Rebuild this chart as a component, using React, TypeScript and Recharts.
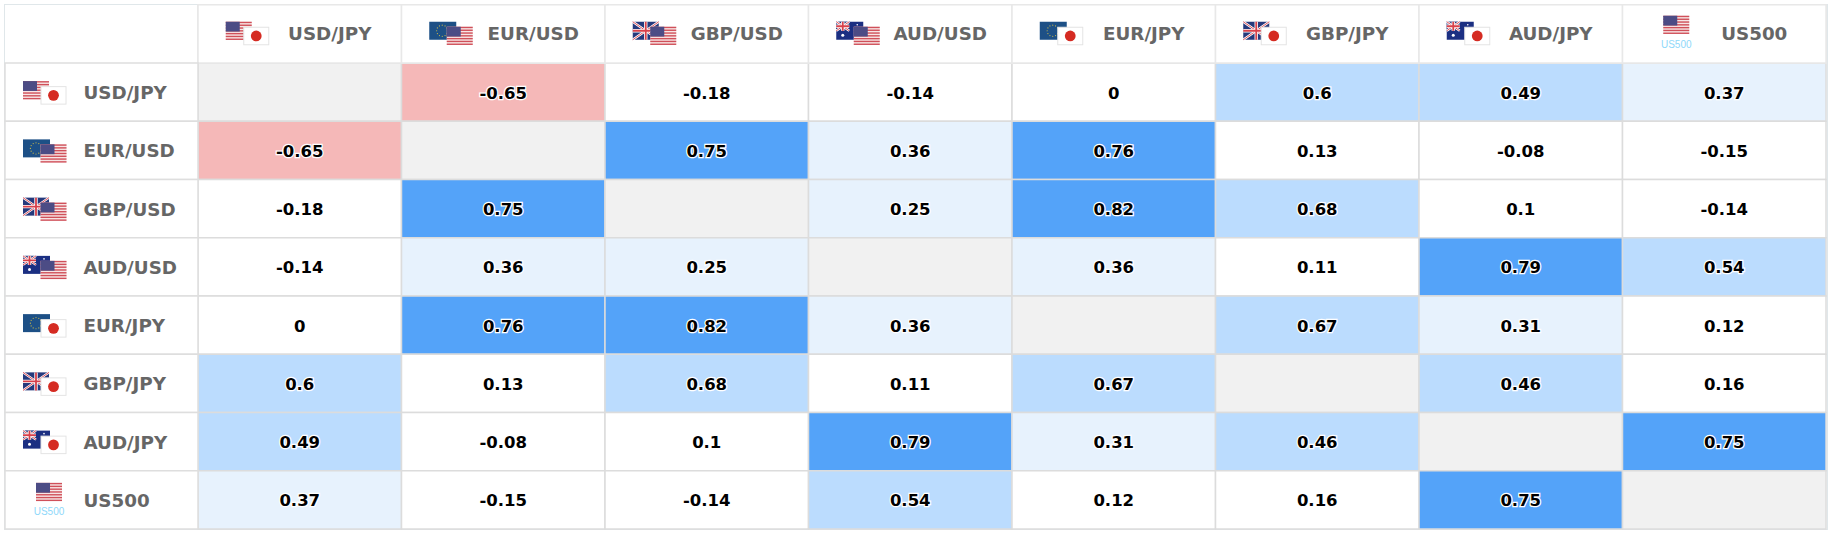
import { Scatter, ScatterChart, XAxis, YAxis } from "recharts"

const pairs = ["USD/JPY", "EUR/USD", "GBP/USD", "AUD/USD", "EUR/JPY", "GBP/JPY", "AUD/JPY", "US500"]

const usdJpy = [null, -0.65, -0.18, -0.14, 0, 0.6, 0.49, 0.37]
const eurUsd = [-0.65, null, 0.75, 0.36, 0.76, 0.13, -0.08, -0.15]
const gbpUsd = [-0.18, 0.75, null, 0.25, 0.82, 0.68, 0.1, -0.14]
const audUsd = [-0.14, 0.36, 0.25, null, 0.36, 0.11, 0.79, 0.54]
const eurJpy = [0, 0.76, 0.82, 0.36, null, 0.67, 0.31, 0.12]
const gbpJpy = [0.6, 0.13, 0.68, 0.11, 0.67, null, 0.46, 0.16]
const audJpy = [0.49, -0.08, 0.1, 0.79, 0.31, 0.46, null, 0.75]
const us500 = [0.37, -0.15, -0.14, 0.54, 0.12, 0.16, 0.75, null]

const matrix = [usdJpy, eurUsd, gbpUsd, audUsd, eurJpy, gbpJpy, audJpy, us500]

const cells = matrix.flatMap((row, r) =>
  row.map((value, c) => ({ col: pairs[c], row: pairs[r], value }))
)

const CELL_W = 203.5
const CELL_H = 58.25
const FONT = "'DejaVu Sans', sans-serif"

function cellColor(value: number | null) {
  if (value === null) return "#f1f1f1"
  if (value <= -0.5) return "#f5b8b8"
  if (value >= 0.7) return "#54a3f9"
  if (value >= 0.4) return "#bbdcfe"
  if (value >= 0.2) return "#e7f2fd"
  return "#ffffff"
}

// little flags, all about 26x18
function UsFlag({ x, y }: { x: number; y: number }) {
  const stripes = [0, 1, 2, 3, 4, 5, 6]
  return (
    <g transform={`translate(${x},${y})`}>
      <rect width={26} height={18} fill="#f7e6e6" />
      {stripes.map((s) => (
        <rect key={s} y={s * 2.8} width={26} height={1.4} fill="#d0505a" />
      ))}
      <rect width={14} height={9.8} fill="#4c4c85" />
    </g>
  )
}

function JpFlag({ x, y }: { x: number; y: number }) {
  return (
    <g transform={`translate(${x},${y})`}>
      <rect x={0.5} y={0.5} width={25} height={17.5} fill="#fff" stroke="#e4e4e4" />
      <circle cx={13} cy={9.2} r={5.4} fill="#d52b22" />
    </g>
  )
}

function EuFlag({ x, y }: { x: number; y: number }) {
  const stars = [0, 1, 2, 3, 4, 5, 6, 7, 8, 9, 10, 11]
  return (
    <g transform={`translate(${x},${y})`}>
      <rect width={27} height={18} fill="#1d5086" />
      {stars.map((s) => (
        <circle
          key={s}
          cx={13 + 5.6 * Math.cos((s * Math.PI) / 6)}
          cy={9 + 5.6 * Math.sin((s * Math.PI) / 6)}
          r={0.6}
          fill="#c9b84a"
        />
      ))}
    </g>
  )
}

function UnionJack({ w, h }: { w: number; h: number }) {
  return (
    <g>
      <rect width={w} height={h} fill="#25397c" />
      <path d={`M0 0L${w} ${h}M${w} 0L0 ${h}`} stroke="#fff" strokeWidth={2.4} />
      <path d={`M0 0L${w} ${h}M${w} 0L0 ${h}`} stroke="#d8404a" strokeWidth={0.9} />
      <path d={`M${w / 2} 0V${h}M0 ${h / 2}H${w}`} stroke="#fff" strokeWidth={3.4} />
      <path d={`M${w / 2} 0V${h}M0 ${h / 2}H${w}`} stroke="#d8404a" strokeWidth={1.8} />
    </g>
  )
}

function UkFlag({ x, y }: { x: number; y: number }) {
  return (
    <g transform={`translate(${x},${y})`}>
      <UnionJack w={26} h={18} />
    </g>
  )
}

function AuFlag({ x, y }: { x: number; y: number }) {
  return (
    <g transform={`translate(${x},${y})`}>
      <rect width={27} height={18} fill="#1b2f82" />
      <UnionJack w={13} h={9} />
      <circle cx={6.5} cy={13.5} r={1.5} fill="#fff" />
      <circle cx={21} cy={3} r={0.8} fill="#fff" />
    </g>
  )
}

const flagOf: Record<string, (p: { x: number; y: number }) => any> = {
  USD: UsFlag,
  JPY: JpFlag,
  EUR: EuFlag,
  GBP: UkFlag,
  AUD: AuFlag,
}

// x, y: top left corner of the flag group
function PairFlag({ name, x, y }: { name: string; x: number; y: number }) {
  if (name === "US500") {
    return (
      <g>
        <UsFlag x={x + 13} y={y - 6} />
        <text x={x + 26} y={y + 26} textAnchor="middle" fontSize={10} fill="#8fd8fa" fontFamily="'Liberation Sans', sans-serif">
          US500
        </text>
      </g>
    )
  }
  const [base, quote] = name.split("/")
  const Base = flagOf[base]
  const Quote = flagOf[quote]
  return (
    <g>
      <Base x={x} y={y} />
      <Quote x={x + 17.5} y={y + 5} />
    </g>
  )
}

function ColumnTick({ x, y, payload }: any) {
  const name = payload.value
  const top = y - CELL_H
  return (
    <g>
      <rect x={x - CELL_W / 2} y={top} width={CELL_W} height={CELL_H} fill="#fff" stroke="#e8e8e8" strokeWidth={1.5} />
      <PairFlag name={name} x={x - 74} y={top + 17} />
      <text x={x + 30} y={top + 35} textAnchor="middle" fontSize={18.3} fontWeight={700} fill="#666" fontFamily={FONT}>
        {name}
      </text>
    </g>
  )
}

function RowTick({ x, y, payload }: any) {
  const name = payload.value
  return (
    <g>
      <rect x={x - 193} y={y - CELL_H / 2} width={193} height={CELL_H} fill="#fff" stroke="#dedede" strokeWidth={1.5} />
      <PairFlag name={name} x={x - 175} y={y - 11} />
      <text x={x - 114.5} y={y + 7} textAnchor="start" fontSize={18.3} fontWeight={700} fill="#666" fontFamily={FONT}>
        {name}
      </text>
    </g>
  )
}

function Cell({ cx, cy, payload }: any) {
  const { value } = payload
  return (
    <g>
      <rect
        x={cx - CELL_W / 2}
        y={cy - CELL_H / 2}
        width={CELL_W}
        height={CELL_H}
        fill={cellColor(value)}
        stroke="#dcdcdc"
        strokeWidth={1.5}
      />
      {value !== null && (
        <text
          x={cx}
          y={cy + 6.5}
          textAnchor="middle"
          fontSize={16.5}
          fontWeight={700}
          fill="#000"
          stroke="#fff"
          strokeWidth={2.5}
          paintOrder="stroke"
          fontFamily={FONT}
        >
          {value}
        </text>
      )}
    </g>
  )
}

export default function App() {
  return (
    <div style={{ position: "absolute", left: 0, top: 0, width: 1834, height: 540, background: "#fff" }}>
      <div
        style={{
          position: "absolute",
          left: 4,
          top: 4,
          width: 1824,
          height: 526,
          boxSizing: "border-box",
          border: "1.5px solid #e0e7ea",
        }}
      />
      <div style={{ position: "absolute", left: 0, top: 0 }}>
        <ScatterChart width={1834} height={540} margin={{ top: 5, left: 5, right: 8, bottom: 11 }}>
          <XAxis
            xAxisId="pair"
            dataKey="col"
            type="category"
            scale="band"
            orientation="top"
            allowDuplicatedCategory={false}
            height={58}
            interval={0}
            axisLine={false}
            tickLine={false}
            tickSize={0}
            tickMargin={0}
            tick={<ColumnTick />}
          />
          <YAxis
            yAxisId="pair"
            dataKey="row"
            type="category"
            scale="band"
            reversed
            allowDuplicatedCategory={false}
            width={193}
            interval={0}
            axisLine={false}
            tickLine={false}
            tickSize={0}
            tickMargin={0}
            tick={<RowTick />}
          />
          <Scatter xAxisId="pair" yAxisId="pair" data={cells} shape={<Cell />} isAnimationActive={false} />
        </ScatterChart>
      </div>
    </div>
  )
}
